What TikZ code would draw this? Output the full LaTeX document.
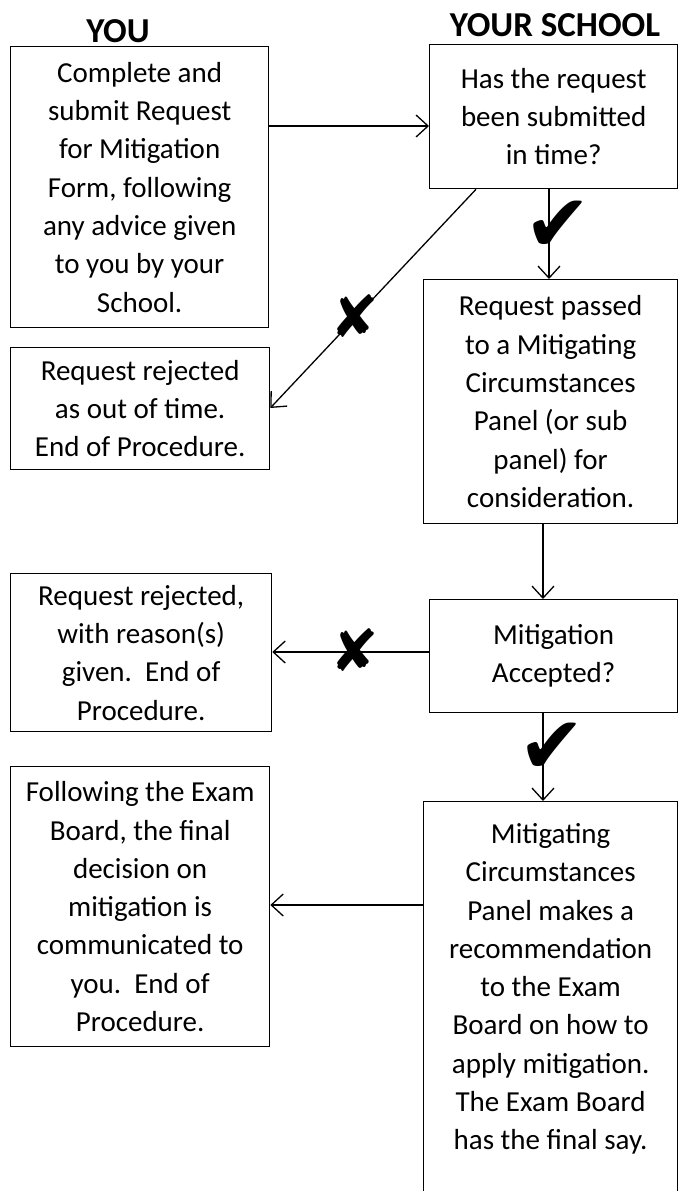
\documentclass[tikz,border=0pt]{standalone}
\usepackage{fontspec}
\setmainfont{Carlito}
\newfontfamily\markfont{DejaVu Sans}
\usepackage{xcolor}
\usetikzlibrary{positioning,arrows.meta}
\definecolor{FormInk}{HTML}{000000}
\newcommand\padbelow[1]{\rule[-#1]{0pt}{#1}}

\tikzset{
  stepbox/.style={draw=FormInk,line width=1.3pt,align=center,inner sep=0pt,anchor=north west,
    font=\fontsize{29}{38.3}\selectfont},
  flow/.style={draw=FormInk,line width=1.3pt,-{Straight Barb[length=12pt,width=22pt,line width=1.3pt]}},
  yesmark/.style={text=FormInk,font=\markfont\fontsize{80}{80}\selectfont},
  nomark/.style={text=FormInk,font=\markfont\fontsize{58}{58}\selectfont},
  heading/.style={text=FormInk,font=\bfseries\fontsize{35}{40}\selectfont}
}

\begin{document}
\begin{tikzpicture}[x=1pt,y=-1pt]
        \useasboundingbox (0,0) rectangle (678,1191);
        \node[heading] (you) at (118,31) {YOU};
        \node[heading] (school) at (555,25) {YOUR SCHOOL};
        % left column
        \node[stepbox,minimum width=258pt,minimum height=281pt] (submit) at (10,46)
          {Complete and\\submit Request\\for Mitigation\\Form, following\\any advice given\\to you by your\\School.};
        \node[stepbox,minimum width=259pt,minimum height=122pt] (late) at (10,347)
          {Request rejected\\as out of time.\\End of Procedure.};
        \node[stepbox,minimum width=261pt,minimum height=158pt] (rejected) at (10,573)
          {Request rejected,\\with reason(s)\\given.\ \ End of\\Procedure.};
        \node[stepbox,minimum width=259pt,minimum height=280pt] (final) at (10,766)
          {Following the Exam\\Board, the final\\decision on\\mitigation is\\communicated to\\you.\ \ End of\\Procedure.};
        % right column
        \node[stepbox,minimum width=248pt,minimum height=144pt] (ask) at (429,44)
          {Has the request\\been submitted\\in time?};
        \node[stepbox,minimum width=254pt,minimum height=244pt] (passed) at (423,279)
          {Request passed\\to a Mitigating\\Circumstances\\Panel (or sub\\panel) for\\consideration.};
        \node[stepbox,minimum width=248pt,minimum height=113pt] (accepted) at (429,599)
          {Mitigation\\Accepted?};
        \node[stepbox,minimum width=254pt,minimum height=420pt] (recommend) at (423,801)
          {Mitigating\\Circumstances\\Panel makes a\\recommendation\\to the Exam\\Board on how to\\apply mitigation.\\The Exam Board\\has the final say.\padbelow{50pt}};
        % connectors
        \draw[flow] (submit.east |- 0,126) -- (ask.west |- 0,126);
        \draw[flow] (ask.south -| 549,0) -- (passed.north -| 549,0);
        \draw[flow] (ask.south -| 476,0) -- (late.east |- 0,408);
        \draw[flow] (passed.south -| 543,0) -- (accepted.north -| 543,0);
        \draw[flow] (accepted.west |- 0,652) -- (rejected.east |- 0,652);
        \draw[flow] (accepted.south -| 543,0) -- (recommend.north -| 543,0);
        \draw[flow] (recommend.west |- 0,905) -- (final.east |- 0,905);
        % yes / no marks
        \node[yesmark] (tickask) at (558,226) {✔};
        \node[nomark] (crosslate) at (355,316) {✘};
        \node[nomark] (crossaccept) at (355,650) {✘};
        \node[yesmark] (tickaccept) at (552,748) {✔};
      \end{tikzpicture}
\end{document}
